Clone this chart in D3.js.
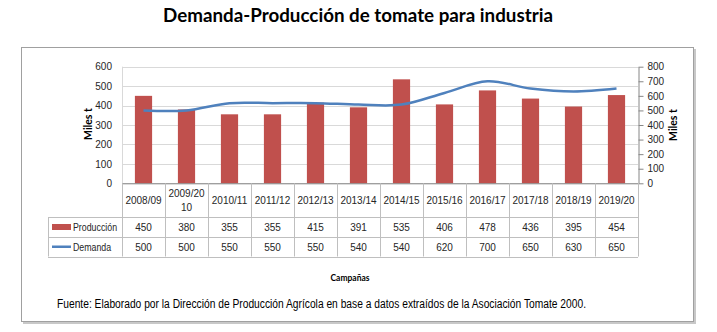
<!DOCTYPE html>
<html><head><meta charset="utf-8">
<script src="https://cdn.jsdelivr.net/npm/d3@7"></script>
<style>body{margin:0;background:#fff}svg{display:block}</style>
</head><body>
<svg id="c" width="717" height="332"></svg>
<script>
const categories = ["2008/09","2009/2010","2010/11","2011/12","2012/13","2013/14","2014/15","2015/16","2016/17","2017/18","2018/19","2019/20"];
const categoryLines = [["2008/09"],["2009/20","10"],["2010/11"],["2011/12"],["2012/13"],["2013/14"],["2014/15"],["2015/16"],["2016/17"],["2017/18"],["2018/19"],["2019/20"]];
const produccion = [450,380,355,355,415,391,535,406,478,436,395,454];
const demanda = [500,500,550,550,550,540,540,620,700,650,630,650];
const leftTicks = [0,100,200,300,400,500,600];
const rightTicks = [0,100,200,300,400,500,600,700,800];
const seriesNames = ["Producción","Demanda"];
const title = "Demanda-Producción de tomate para industria";
const axisTitle = "Miles t";
const xTitle = "Campañas";
const source = "Fuente: Elaborado por la Dirección de  Producción Agrícola en base a datos extraídos de la Asociación Tomate 2000.";

const FONT = "'Liberation Sans', Arial, sans-serif";
const TFONT = "Lato, 'Open Sans', sans-serif";
const svg = d3.select("#c");
const barColor = "#C0504D", lineColor = "#4F81BD", gridColor = "#d9d9d9", tblColor = "#bfbfbf", txt = "#262626";
const FS = 10;
// squeeze text horizontally, Calibri-like
function squeeze(sel, k){ sel.each(function(){ const w=this.getComputedTextLength(); d3.select(this).attr("textLength",w*k).attr("lengthAdjust","spacingAndGlyphs"); }); }

const L = 122, R = 638, T = 66.7, B = 183.3;
const x = d3.scaleBand().domain(categories).range([L, R]).paddingInner(0.6).paddingOuter(0.3);
const xc = d3.scaleBand().domain(categories).range([L, R]);
const yL = d3.scaleLinear().domain([0,600]).range([B, T]);
const yR = d3.scaleLinear().domain([0,800]).range([B, T]);

// title
svg.append("text").attr("x",358).attr("y",22).attr("text-anchor","middle")
  .attr("font-family",TFONT).attr("font-weight","bold").attr("font-size",18).attr("fill","#000")
  .attr("textLength",390).attr("lengthAdjust","spacingAndGlyphs").text(title);

// frame with shadow
svg.append("rect").attr("x",23).attr("y",49).attr("width",673).attr("height",275).attr("fill","#c8c8c8");
svg.append("rect").attr("x",21.5).attr("y",47.5).attr("width",672).attr("height",274).attr("fill","#fff").attr("stroke","#a0a0a0").attr("stroke-width",1);

// gridlines
svg.append("g").selectAll("line").data(leftTicks).join("line")
  .attr("x1",L).attr("x2",R).attr("y1",d=>Math.round(yL(d))+0.5).attr("y2",d=>Math.round(yL(d))+0.5)
  .attr("stroke",gridColor);
svg.append("line").attr("x1",L+0.5).attr("x2",L+0.5).attr("y1",T).attr("y2",B).attr("stroke",gridColor);

// left axis
const gl = svg.append("g").attr("transform",`translate(${L},0)`)
  .call(d3.axisLeft(yL).tickValues(leftTicks).tickSize(0).tickPadding(10));
gl.select(".domain").remove();
gl.selectAll("text").attr("font-family",FONT).attr("font-size",FS).attr("fill",txt);

// right axis
const gr = svg.append("g").attr("transform",`translate(${R+0.5},0)`)
  .call(d3.axisRight(yR).tickValues(rightTicks).tickSize(5).tickSizeOuter(0).tickPadding(4));
gr.select(".domain").attr("stroke","#868686");
gr.selectAll(".tick line").attr("stroke","#868686");
gr.selectAll("text").attr("font-family",FONT).attr("font-size",FS).attr("fill",txt);

// axis titles
svg.append("text").attr("transform",`translate(92,124) rotate(-90)`).attr("text-anchor","middle")
  .attr("font-family",TFONT).attr("font-weight","bold").attr("font-size",10.5).attr("fill","#000").text(axisTitle);
svg.append("text").attr("transform",`translate(677,125) rotate(-90)`).attr("text-anchor","middle")
  .attr("font-family",TFONT).attr("font-weight","bold").attr("font-size",10.5).attr("fill","#000").text(axisTitle);

// bars
svg.append("g").selectAll("rect").data(produccion).join("rect")
  .attr("x",(d,i)=>x(categories[i])).attr("width",x.bandwidth())
  .attr("y",d=>yL(d)).attr("height",d=>B-yL(d)).attr("fill",barColor);

// line
const line = d3.line().x((d,i)=>xc(categories[i])+xc.bandwidth()/2).y(d=>yR(d)).curve(d3.curveCatmullRom.alpha(0.5));
svg.append("path").datum(demanda).attr("d",line).attr("fill","none").attr("stroke",lineColor).attr("stroke-width",2.5);

// bottom axis line
svg.append("line").attr("x1",L).attr("x2",R).attr("y1",B+0.5).attr("y2",B+0.5).attr("stroke","#868686");

// data table
const H0 = B, H1 = 217, H2 = 237, H3 = 256.5, TL = 48;
const tg = svg.append("g").attr("stroke",tblColor).attr("stroke-width",1);
const vx = d3.range(categories.length+1).map(i=> i<categories.length ? xc(categories[i]) : R);
tg.selectAll(".v").data(vx).join("line").attr("x1",d=>Math.round(d)+0.5).attr("x2",d=>Math.round(d)+0.5).attr("y1",H0).attr("y2",H3);
tg.append("line").attr("x1",TL+0.5).attr("x2",TL+0.5).attr("y1",H1).attr("y2",H3);
[H1,H2,H3].forEach(h=>tg.append("line").attr("x1",TL).attr("x2",R).attr("y1",Math.round(h)+0.5).attr("y2",Math.round(h)+0.5));

const hdr = svg.append("g").attr("font-family",FONT).attr("font-size",FS).attr("fill",txt).attr("text-anchor","middle");
categoryLines.forEach((ls,i)=>{
  const cx = xc(categories[i])+xc.bandwidth()/2;
  const cy = (H0+H1)/2;
  ls.forEach((s,j)=>{
    hdr.append("text").attr("x",cx).attr("y",cy+4+(j-(ls.length-1)/2)*14).text(s);
  });
  hdr.append("text").attr("x",cx).attr("y",(H1+H2)/2+4).text(produccion[i]);
  hdr.append("text").attr("x",cx).attr("y",(H2+H3)/2+4).text(demanda[i]);
});
// legend cells
svg.append("rect").attr("x",52).attr("y",(H1+H2)/2-3).attr("width",19).attr("height",6).attr("fill",barColor);
svg.append("line").attr("x1",52).attr("x2",71).attr("y1",(H2+H3)/2).attr("y2",(H2+H3)/2).attr("stroke",lineColor).attr("stroke-width",2.5);
const lt = svg.append("g").attr("font-family",FONT).attr("font-size",FS).attr("fill",txt);
lt.append("text").attr("x",73).attr("y",(H1+H2)/2+4).text(seriesNames[0]);
lt.append("text").attr("x",73).attr("y",(H2+H3)/2+4).text(seriesNames[1]);
squeeze(lt.selectAll("text"), 0.88);

// x title
svg.append("text").attr("x",350).attr("y",281).attr("text-anchor","middle").attr("font-family",TFONT)
  .attr("font-weight","bold").attr("font-size",9.5).attr("fill","#000")
  .attr("textLength",39).attr("lengthAdjust","spacingAndGlyphs").text(xTitle);
// source
svg.append("text").attr("x",57).attr("y",308).attr("font-family",FONT).attr("font-size",12).attr("fill","#000")
  .attr("textLength",529).attr("lengthAdjust","spacingAndGlyphs").text(source);
</script>
</body></html>
